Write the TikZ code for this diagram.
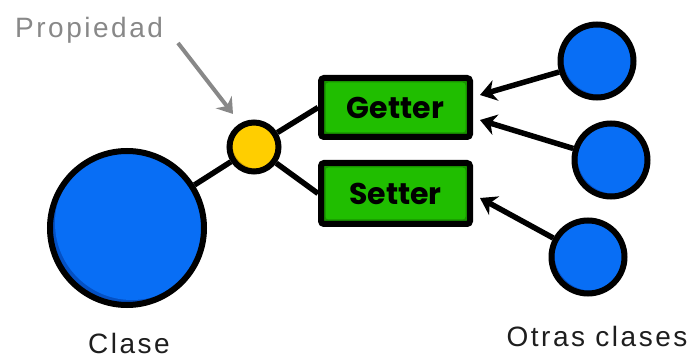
\documentclass[tikz,border=0pt]{standalone}
\usepackage{fontspec}
\setmainfont{Liberation Sans}
\newfontfamily\labelfont[LetterSpace=9]{Liberation Sans}
\newfontfamily\boxfont{Poppins}
\usetikzlibrary{arrows.meta}
\definecolor{blueL}{RGB}{8,110,245}
\definecolor{blueD}{RGB}{4,80,195}
\definecolor{greenL}{RGB}{32,190,0}
\definecolor{greenD}{RGB}{24,145,0}
\definecolor{yelL}{RGB}{255,206,0}
\definecolor{yelD}{RGB}{215,165,0}
\definecolor{txtgray}{RGB}{136,136,136}
\definecolor{txtdark}{RGB}{30,30,30}
\tikzset{
  ball/.style n args={4}{circle, draw=black, line width=6pt, inner sep=0pt,
    minimum size=#1, fill=#3,
    path picture={\fill[#4] ([shift={(#2,#2)}]path picture bounding box.center) circle[radius=#1/2];}},
  bluebig/.style={ball={154pt}{5pt}{blueD}{blueL}},
  bluesmall/.style={ball={73pt}{3pt}{blueD}{blueL}},
  yellowball/.style={ball={49pt}{3pt}{yelD}{yelL}},
  method/.style={draw=black, line width=6pt, rounded corners=3pt, inner sep=0pt,
    minimum width=149pt, fill=greenD, font=\boxfont\bfseries\fontsize{30}{30}\selectfont,
    path picture={\fill[greenL] ([shift={(4.5pt,-4.5pt)}]path picture bounding box.north west) rectangle ([shift={(-4.5pt,4.5pt)}]path picture bounding box.south east);}},
  link/.style={line width=5.5pt, black},
  arr/.style={line width=5.5pt, black, -{Stealth[length=16pt,width=21pt,inset=5pt]}},
  grayarr/.style={line width=4pt, txtgray, -{Stealth[length=15pt,width=20pt,inset=5pt]}},
  lbl/.style={font=\labelfont\fontsize{28}{28}\selectfont, inner sep=0pt}
}
\begin{document}
\begin{tikzpicture}[x=1pt,y=-1pt]
\useasboundingbox (0,0) rectangle (694,358);
% nodes
\node[bluebig] (clase) at (127,228) {};
\node[yellowball] (prop) at (254,147) {};
\node[method, minimum height=59pt] (getter) at (395.5,107.5) {Getter};
\node[method, minimum height=61pt] (setter) at (395.5,193.5) {Setter};
\node[bluesmall] (o1) at (597,61) {};
\node[bluesmall] (o2) at (611,160) {};
\node[bluesmall] (o3) at (588,257) {};
% labels
\node[lbl, text=txtgray, anchor=base west] (proplbl) at (15,38) {Propiedad};
\node[lbl, text=txtdark, anchor=base] (claselbl) at (129,353) {Clase};
\node[lbl, text=txtdark, anchor=base] (otraslbl) at (597,346) {Otras clases};
% arrow tips
\coordinate (t1) at (480,95);
\coordinate (t2) at (480,120);
\coordinate (t3) at (480,198);
\coordinate (ps) at (178,43);
\coordinate (pt) at (233,114);
% connectors
\draw[link] (clase) -- (prop);
\draw[link] (prop) -- (getter.west);
\draw[link] (prop) -- (setter.west);
\draw[arr] (o1) -- (t1);
\draw[arr] (o2) -- (t2);
\draw[arr] (o3) -- (t3);
\draw[grayarr] (ps) -- (pt);
\end{tikzpicture}
\end{document}
